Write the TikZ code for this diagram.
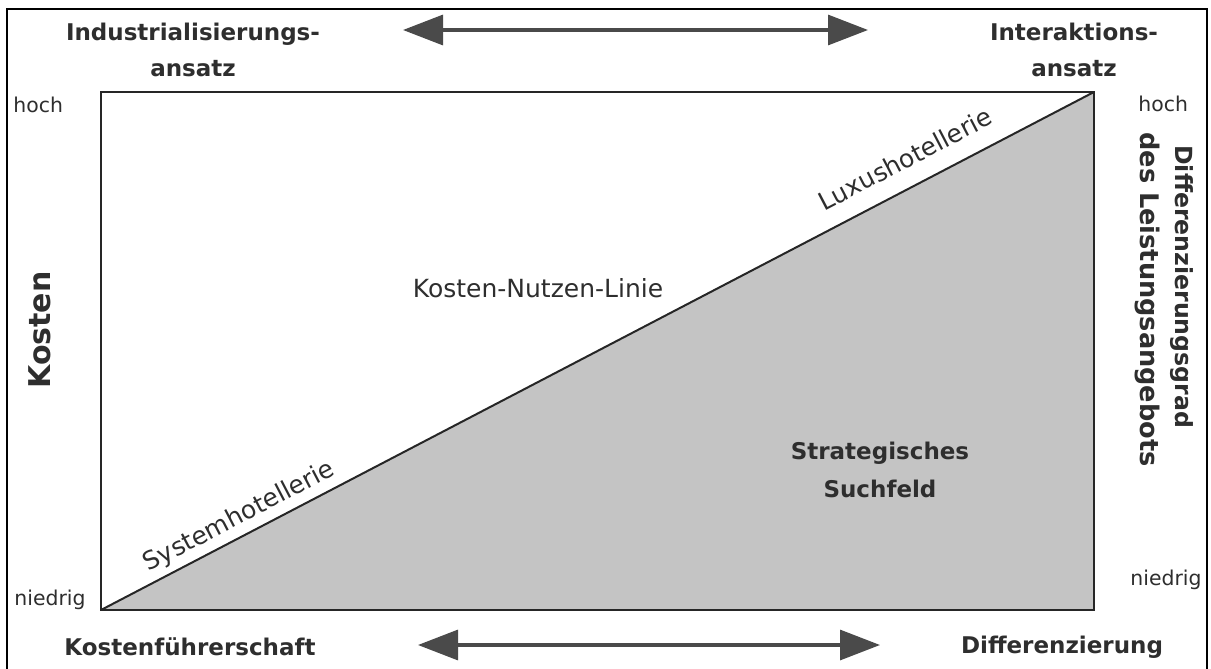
\documentclass[tikz,border=0pt]{standalone}
\usepackage{fontspec}
\setmainfont{DejaVu Sans}
\usetikzlibrary{arrows.meta}
\definecolor{txt}{HTML}{2E2E2E}
\definecolor{arr}{HTML}{4A4A4A}
\definecolor{field}{HTML}{C4C4C4}
\tikzset{
  boldlbl/.style={font=\bfseries\fontsize{11.5}{13.5}\selectfont, text=txt, inner sep=0pt, align=center},
  smalllbl/.style={font=\fontsize{10.2}{12}\selectfont, text=txt, inner sep=0pt},
  midlbl/.style={font=\fontsize{12.5}{15}\selectfont, text=txt, inner sep=0pt},
  dblarrow/.style={draw=arr, line width=1.6pt, {Triangle[length=20pt,width=15pt,fill=arr]}-{Triangle[length=20pt,width=15pt,fill=arr]}}
}
\begin{document}
\begin{tikzpicture}[x=0.5pt,y=-0.5pt]
\useasboundingbox (0,0) rectangle (1211,669);
% outer frame
\coordinate (F1) at (7,669);
\coordinate (F2) at (7,9);
\coordinate (F3) at (1207,9);
\coordinate (F4) at (1207,669);
\draw[line width=1.1pt, black] (F1) -- (F2) -- (F3) -- (F4);
% main field
\coordinate (TL) at (101,92);
\coordinate (TR) at (1094,92);
\coordinate (BL) at (101,610);
\coordinate (BR) at (1094,610);
\fill[field] (BL) -- (TR) -- (BR) -- cycle;
\draw[line width=1.4pt, black!85] (TL) rectangle (BR);
\draw[line width=1pt, black!85] (BL) -- (TR);
\path (BL) -- node[pos=0.148, above=3pt, sloped, midlbl] (sys) {Systemhotellerie} (TR);
\path (BL) -- node[pos=0.823, above=9pt, sloped, midlbl] (lux) {Luxushotellerie} (TR);
% labels in field
\node[midlbl] (knl) at (538,288) {Kosten-Nutzen-Linie};
\node[boldlbl, font=\bfseries\fontsize{11.5}{19}\selectfont] (sf) at (880,470) {Strategisches\\Suchfeld};
% top
\node[boldlbl, font=\bfseries\fontsize{11.5}{18}\selectfont] (ind) at (193,50) {Industrialisierungs-\\ansatz};
\node[boldlbl, font=\bfseries\fontsize{11.5}{18}\selectfont] (int) at (1074,50) {Interaktions-\\ansatz};
\coordinate (ta1) at (403,30);
\coordinate (ta2) at (868,30);
\draw[dblarrow] (ta1) -- (ta2);
% bottom
\node[boldlbl] (kf) at (190,647) {Kostenführerschaft};
\node[boldlbl] (dif) at (1062,647) {Differenzierung};
\coordinate (ba1) at (418,645);
\coordinate (ba2) at (880,645);
\draw[dblarrow] (ba1) -- (ba2);
% left axis
\node[smalllbl, anchor=west] (lh) at (13,105) {hoch};
\node[smalllbl, anchor=west] (ln) at (14,600) {niedrig};
\node[boldlbl, rotate=90, font=\bfseries\fontsize{15}{17}\selectfont] (kost) at (40,330) {Kosten};
% right axis
\node[smalllbl, anchor=west] (rh) at (1138,104) {hoch};
\node[smalllbl, anchor=west] (rn) at (1130,580) {niedrig};
\node[boldlbl, rotate=-90, anchor=north west, font=\bfseries\fontsize{11.8}{14}\selectfont] (dg1) at (1194,145) {Differenzierungsgrad};
\node[boldlbl, rotate=-90, anchor=north west, font=\bfseries\fontsize{12.8}{15}\selectfont] (dg2) at (1160,132) {des Leistungsangebots};
\end{tikzpicture}
\end{document}
